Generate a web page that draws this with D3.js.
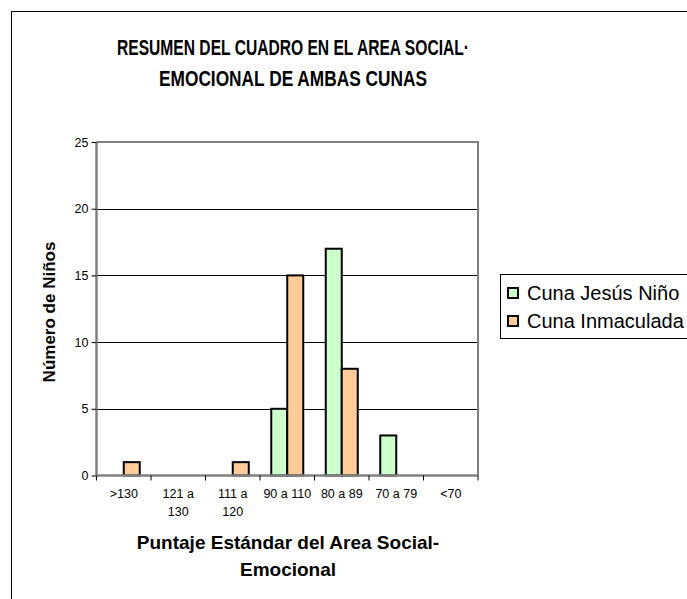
<!DOCTYPE html>
<html><head><meta charset="utf-8">
<script src="https://cdn.jsdelivr.net/npm/d3@7"></script>
<style>body{margin:0;background:#fff}svg{display:block}</style>
</head><body>
<script>
const categories = [">130", "121 a 130", "111 a 120", "90 a 110", "80 a 89", "70 a 79", "<70"];
const jesusNino = [0, 0, 0, 5, 17, 3, 0];
const inmaculada = [1, 0, 1, 15, 8, 0, 0];
const seriesNames = ["Cuna Jesús Niño", "Cuna Inmaculada"];
const seriesColors = ["#CCFFCC", "#FFCC99"];
const yTicks = [0, 5, 10, 15, 20, 25];

const W = 687, H = 599;
const FONT = "Liberation Sans, Arial, sans-serif";
const svg = d3.select("body").append("svg").attr("width", W).attr("height", H);
svg.append("rect").attr("x", 11.5).attr("y", 11.5).attr("width", W + 10).attr("height", H + 10)
  .attr("fill", "#fff").attr("stroke", "#000").attr("stroke-width", 1);

const L = 96.5, R = 478, T = 142, B = 475.5;
const x = d3.scaleBand().domain(categories).range([L, R]).paddingInner(0).paddingOuter(0);
const y = d3.scaleLinear().domain([0, 25]).range([B, T]);
const barW = 16;

// gridlines
svg.append("g").selectAll("line").data(yTicks.filter(d => d > 0 && d < 25)).join("line")
  .attr("x1", L).attr("x2", R).attr("y1", d => Math.round(y(d)) + 0.5).attr("y2", d => Math.round(y(d)) + 0.5)
  .attr("stroke", "#000").attr("stroke-width", 1);
// plot border top/right
svg.append("path").attr("d", `M${L},${T}H${R}V${B}`).attr("fill", "none").attr("stroke", "#808080").attr("stroke-width", 2);

// bars
const data = categories.map((c, i) => ({c, v: [jesusNino[i], inmaculada[i]]}));
const g = svg.append("g");
data.forEach(d => {
  d.v.forEach((v, s) => {
    if (v <= 0) return;
    const cx = x(d.c) + x.bandwidth() / 2;
    g.append("rect")
      .attr("x", cx - barW + s * barW).attr("y", y(v)).attr("width", barW).attr("height", y(0) - y(v))
      .attr("fill", seriesColors[s]).attr("stroke", "#000").attr("stroke-width", 2);
  });
});

// axes
const yAxis = d3.axisLeft(y).tickValues(yTicks).tickSize(5).tickPadding(3);
const ya = svg.append("g").attr("transform", `translate(${L},0)`).call(yAxis);
ya.select(".domain").attr("stroke", "#808080").attr("stroke-width", 2.5).attr("d", `M0,${T}V${B}`);
ya.selectAll(".tick line").attr("stroke", "#000");
ya.selectAll("text").attr("font-family", FONT).attr("font-size", 12.5).attr("fill", "#000");

const xAxis = d3.axisBottom(x).tickSize(0).tickFormat("");
const xa = svg.append("g").attr("transform", `translate(0,${B})`).call(xAxis);
xa.select(".domain").attr("stroke", "#808080").attr("stroke-width", 2.5).attr("d", `M${L},0H${R}`);
xa.selectAll(".tick").remove();
const tickPos = categories.map(c => x(c)).concat([R]);
svg.append("g").selectAll("line").data(tickPos).join("line")
  .attr("x1", d => d).attr("x2", d => d).attr("y1", B).attr("y2", B + 5).attr("stroke", "#000");

const labelLines = c => {
  if (c === "121 a 130" || c === "111 a 120") { const p = c.split(" "); return [p[0] + " " + p[1], p[2]]; }
  return [c];
};
const xl = svg.append("g").attr("font-family", FONT).attr("font-size", 12.5).attr("text-anchor", "middle");
categories.forEach(c => {
  const t = xl.append("text").attr("x", x(c) + x.bandwidth() / 2).attr("y", 498);
  labelLines(c).forEach((ln, i) => t.append("tspan").attr("x", x(c) + x.bandwidth() / 2).attr("dy", i ? 18 : 0).text(ln));
});

// chart title (condensed bold)
const titleLines = ["RESUMEN DEL CUADRO EN EL AREA SOCIAL·", "EMOCIONAL DE AMBAS CUNAS"];
const titleWidths = [352, 268];
titleLines.forEach((ln, i) => {
  svg.append("text").attr("x", 293).attr("y", 55 + i * 31)
    .attr("font-family", FONT).attr("font-weight", "bold").attr("font-size", 21.5)
    .attr("text-anchor", "middle").attr("textLength", titleWidths[i]).attr("lengthAdjust", "spacingAndGlyphs")
    .text(ln);
});

const xt = svg.append("text").attr("font-family", FONT)
  .attr("font-weight", "bold").attr("font-size", 19).attr("text-anchor", "middle");
xt.append("tspan").attr("x", 288).attr("y", 549).text("Puntaje Estándar del Area Social-");
xt.append("tspan").attr("x", 288).attr("y", 576).text("Emocional");

svg.append("text").attr("transform", `translate(55,312) rotate(-90)`)
  .attr("font-family", FONT).attr("font-weight", "bold").attr("font-size", 17)
  .attr("text-anchor", "middle").text("Número de Niños");

// legend
const lg = svg.append("g");
lg.append("rect").attr("x", 500.5).attr("y", 274.5).attr("width", 220).attr("height", 64)
  .attr("fill", "#fff").attr("stroke", "#000").attr("stroke-width", 1);
seriesNames.forEach((n, i) => {
  const yy = 293 + i * 28;
  lg.append("rect").attr("x", 508).attr("y", yy - 5).attr("width", 10).attr("height", 10)
    .attr("fill", seriesColors[i]).attr("stroke", "#000").attr("stroke-width", 2);
  lg.append("text").attr("x", 527).attr("y", yy + 7).attr("font-family", FONT)
    .attr("font-size", 20).text(n);
});
</script>
</body></html>
